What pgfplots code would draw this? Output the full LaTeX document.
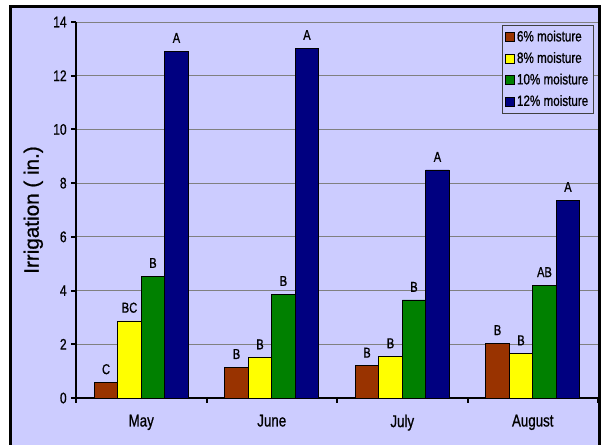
\documentclass[border=0pt]{standalone}
\usepackage{fontspec}
\setmainfont{Liberation Sans}[FakeStretch=0.78, FakeBold=0.8]
\newfontfamily\labelfont{Liberation Sans}[FakeBold=0.8]
\usepackage{pgfplots}
\pgfplotsset{compat=1.18}
\definecolor{lav}{RGB}{204,204,255}
\definecolor{rust}{RGB}{153,51,0}
\definecolor{sun}{RGB}{255,255,0}
\definecolor{leaf}{RGB}{0,128,0}
\definecolor{navy}{RGB}{0,0,128}
\begin{document}
\begin{tikzpicture}
\path[use as bounding box] (-57pt,-34.5pt) rectangle (394.5pt,298.5pt);
\fill[white] (-57pt,-34.5pt) rectangle (394.5pt,298.5pt);
\fill[lav] (-48.75pt,-45pt) rectangle (392.25pt,294pt);
\draw[line width=2.25pt] (-48.75pt,-45pt) -- (-48.75pt,294pt) -- (392.25pt,294pt) -- (392.25pt,-45pt);
\begin{axis}[
  at={(0,0)}, anchor=south west,
  scale only axis, width=391.5pt, height=282pt,
  ybar=0pt, bar width=17.6pt,
  xmin=-0.5, xmax=3.5, ymin=0, ymax=14,
  axis x line*=bottom, axis y line*=left,
  axis line style={line width=1.5pt},
  clip=false,
  /pgf/number format/assume math mode=true,
  ytick={0,2,...,14},
  ymajorgrids, grid style={gray, line width=0.6pt},
  ytick align=outside,
  yticklabel style={font=\fontsize{11.5}{13}\selectfont},
  xtick={-0.5,0.5,1.5,2.5,3.5}, xticklabels={},
  xtick align=outside,
  major tick length=3.5pt,
  tick style={line width=1.5pt, black},
  extra x ticks={0,1,2,3},
  extra x tick labels={May,June,July,August},
  extra x tick style={major tick length=0pt,
    xticklabel style={font=\fontsize{12.8}{14}\selectfont, yshift=-9pt}},
  ylabel={Irrigation ( in.)},
  ylabel style={at={(axis description cs:-0.0817,0.5)}, anchor=center,
    font=\labelfont\fontsize{15.5}{17}\selectfont},
  point meta=explicit symbolic,
  nodes near coords,
  every node near coord/.append style={font=\fontsize{10.7}{12}\selectfont, yshift=2.5pt, black},
  every axis plot post/.append style={draw=black, line width=0.6pt,
    legend image code/.code={\draw[##1, line width=0.5pt] (0pt,-3.3pt) rectangle (6.6pt,3.3pt);}},
  legend cell align=left,
  legend style={at={(rel axis cs:0.992,0.992)}, anchor=north east,
    fill=lav, draw=gray!50!black, font=\fontsize{11.2}{13}\selectfont,
    row sep=2.5pt, inner sep=2pt},
]
\addplot[fill=rust] coordinates {(0,0.58) [C] (1,1.15) [B] (2,1.20) [B] (3,2.04) [B]};
\addplot[fill=sun] coordinates {(0,2.87) [BC] (1,1.51) [B] (2,1.55) [B] (3,1.66) [B]};
\addplot[fill=leaf] coordinates {(0,4.54) [B] (1,3.87) [B] (2,3.65) [B] (3,4.20) [AB]};
\addplot[fill=navy] coordinates {(0,12.92) [A] (1,13.03) [A] (2,8.49) [A] (3,7.37) [A]};
\legend{6\% moisture, 8\% moisture, 10\% moisture, 12\% moisture}
\end{axis}
\end{tikzpicture}
\end{document}
